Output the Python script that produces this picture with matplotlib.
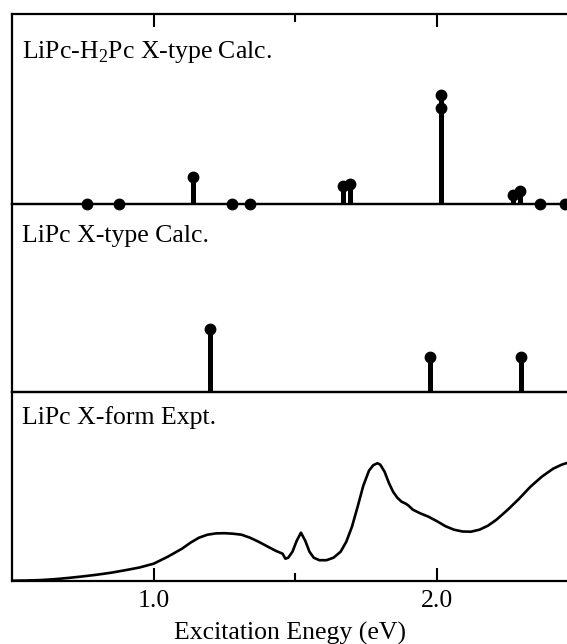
import numpy as np
import matplotlib
matplotlib.use('Agg')
import matplotlib.pyplot as plt

plt.rcParams['font.family'] = ['Liberation Serif', 'DejaVu Serif']
plt.rcParams['mathtext.fontset'] = 'custom'
plt.rcParams['mathtext.rm'] = 'Liberation Serif'

# top panel: LiPc-H2Pc X-type calc (energy eV, strength, arb. units)
mix_energy = [0.765, 0.876, 1.138, 1.275, 1.339, 1.667, 1.693,
              2.016, 2.016, 2.268, 2.293, 2.363, 2.452]
mix_strength = [0, 0, 26.5, 0, 0, 17, 19.5,
                108.5, 95.5, 8.5, 12, 0, 0]

# middle panel: LiPc X-type calc
lipc_energy = [1.199, 1.975, 2.296]
lipc_strength = [63, 35, 35]

# bottom panel: LiPc X-form experimental spectrum (arb. units)
expt_energy = [0.503, 0.55, 0.60, 0.65, 0.70, 0.75, 0.80, 0.85, 0.90,
               0.95, 1.00, 1.05, 1.10, 1.13, 1.16, 1.19, 1.22, 1.25,
               1.28, 1.31, 1.34, 1.37, 1.40, 1.43, 1.455, 1.465, 1.475,
               1.49, 1.505, 1.52, 1.535, 1.55, 1.565, 1.585, 1.61, 1.635,
               1.66, 1.68, 1.70, 1.72, 1.74, 1.76, 1.775, 1.79, 1.80,
               1.815, 1.83, 1.845, 1.86, 1.875, 1.89, 1.90, 1.915, 1.94,
               1.97, 2.00, 2.03, 2.06, 2.09, 2.12, 2.15, 2.18, 2.21,
               2.25, 2.29, 2.33, 2.37, 2.41, 2.44, 2.462]
expt_abs = [0, 0.2, 0.6, 1.5, 2.8, 4.3, 6.0, 8.0, 10.5,
            13.2, 17, 24, 32, 38, 43, 46, 47.3, 47.5,
            47, 46, 43, 39, 34.5, 30, 27, 22, 23,
            29, 40, 48, 40, 29, 23, 20.5, 20.5, 23,
            29, 39, 54, 74, 95, 110, 115.5, 117.5, 116,
            109, 98, 89, 83, 79, 77, 75, 71, 67.5,
            64, 59.5, 54.5, 51, 49.2, 49, 51, 55, 61,
            71, 82, 94, 104, 112, 116, 118]

PANEL_LABELS = [r'LiPc-H$_\mathregular{2}$Pc X-type Calc.',
                'LiPc X-type Calc.', 'LiPc X-form Expt.']
LABEL_Y = [0.866, 0.887, 0.924]
X_LABEL = 'Excitation Enegy (eV)'
XLIM = (0.5, 2.459)
YMAX = 189

W, H = 567, 644
fig = plt.figure(figsize=(W / 100, H / 100), dpi=100)

left = 12 / W
width = 1 - left
edges = [14, 203.5, 391.7, 580.7]
axes = []
for i in range(3):
    top, bot = edges[i], edges[i + 1]
    ax = fig.add_axes([left, 1 - bot / H, width, (bot - top) / H])
    ax.set_xlim(*XLIM)
    ax.set_ylim(0, YMAX)
    ax.set_yticks([])
    ax.patch.set_visible(False)
    ax.set_zorder(3 - i)
    ax.spines['right'].set_visible(False)
    for s in ('left', 'top', 'bottom'):
        ax.spines[s].set_linewidth(1.6)
    ax.text(0.018, LABEL_Y[i], PANEL_LABELS[i], transform=ax.transAxes,
            fontsize=18.5, va='top', ha='left')
    axes.append(ax)

# sticks
for ax, xs, ys in [(axes[0], mix_energy, mix_strength),
                   (axes[1], lipc_energy, lipc_strength)]:
    ax.vlines(xs, 0, ys, colors='black', linewidth=3.6)
    ax.plot(xs, ys, 'o', color='black', markersize=7.5, clip_on=False,
            zorder=5)

axes[2].plot(expt_energy, expt_abs, color='black', linewidth=1.9,
             solid_joinstyle='round')

# ticks
axes[0].tick_params(axis='x', which='both', direction='in', top=True,
                    bottom=False, labeltop=False, labelbottom=False,
                    width=1.5)
axes[0].tick_params(axis='x', which='major', length=9.5)
axes[0].tick_params(axis='x', which='minor', length=6)
axes[1].tick_params(axis='x', which='both', bottom=False, top=False,
                    labelbottom=False)
axes[2].tick_params(axis='x', which='both', direction='in', top=False,
                    bottom=True, labelsize=18.5, width=1.5, pad=7)
axes[2].tick_params(axis='x', which='major', length=9.5)
axes[2].tick_params(axis='x', which='minor', length=6)
for ax in (axes[0], axes[2]):
    ax.set_xticks([1.0, 2.0])
    ax.set_xticks([1.5], minor=True)
axes[2].set_xticklabels(['1.0', '2.0'])
axes[2].set_xlabel(X_LABEL, fontsize=18.5, labelpad=7)

fig.savefig('out.png', dpi=100)
